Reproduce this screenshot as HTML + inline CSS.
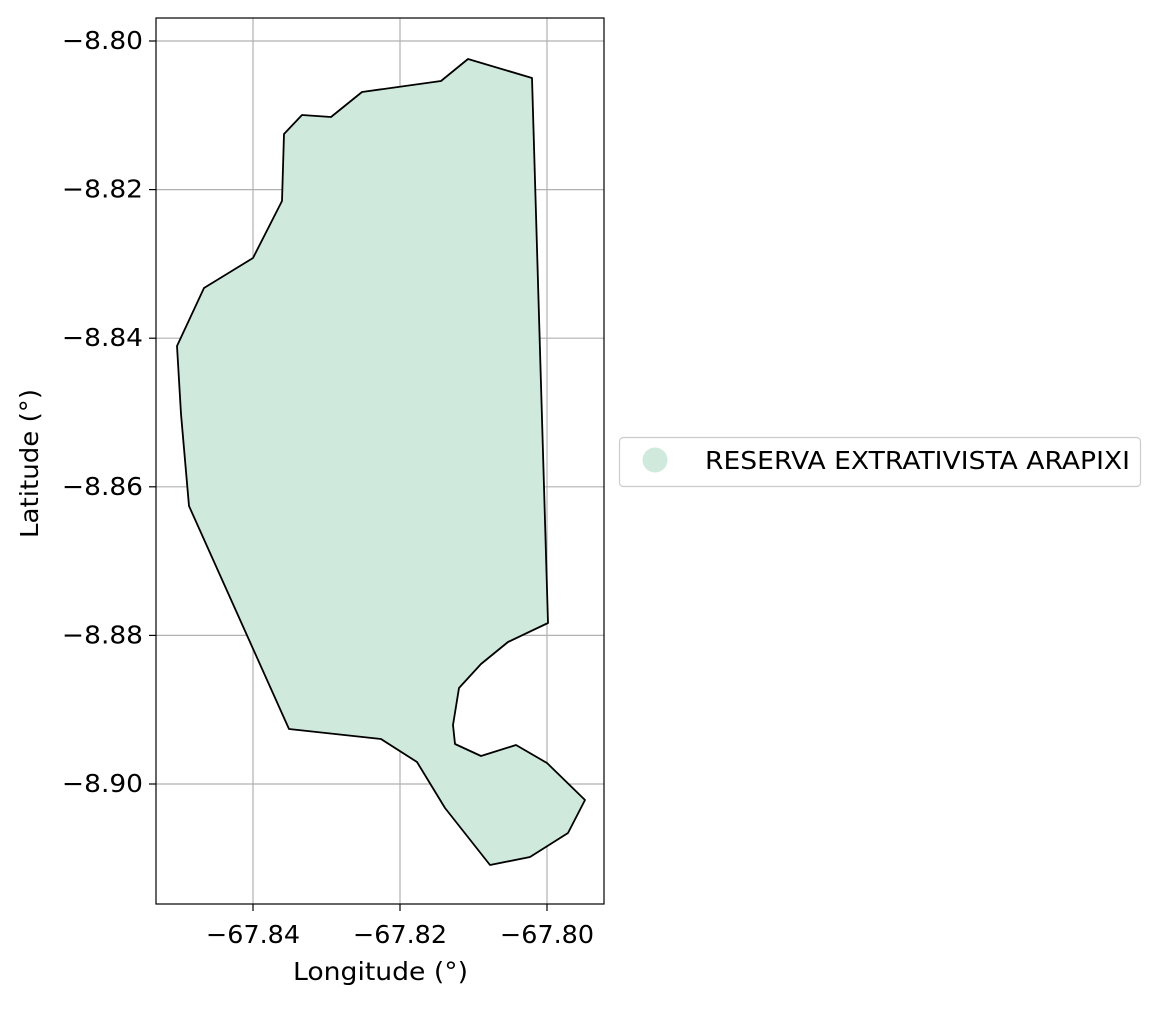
<!DOCTYPE html>
<html><head><meta charset="utf-8"><style>
body{margin:0;background:#fff;}
svg text{font-family:"DejaVu Sans","Liberation Sans",sans-serif;fill:#000;font-size:25px;}
</style></head><body>
<svg id="chart" width="1159" height="1006" viewBox="0 0 1159 1006" xmlns="http://www.w3.org/2000/svg">
<g id="grid"></g>
<g id="poly"></g>
<rect x="156" y="18" width="448" height="886" fill="none" stroke="#000" stroke-width="1.2"/>
<g id="ticks"></g>
<text x="293" y="980" style="font-size:25px" textLength="175" lengthAdjust="spacingAndGlyphs">Longitude (°)</text>
<text x="0" y="0" style="font-size:25px" textLength="149" lengthAdjust="spacingAndGlyphs" transform="translate(38 538) rotate(-90)">Latitude (°)</text>
<g>
<rect x="619.5" y="437.5" width="521" height="49" rx="4" fill="#fff" stroke="#ccc" stroke-width="1.2"/>
<circle cx="655" cy="460" r="12.5" fill="#cfeadd"/>
<text x="705" y="469" style="font-size:25px" textLength="425" lengthAdjust="spacingAndGlyphs">RESERVA EXTRATIVISTA ARAPIXI</text>
</g>
</svg>
<script>
const lonValues=[-67.81075,-67.80204,-67.79986,-67.80531,-67.80898,-67.81197,-67.81279,-67.81252,-67.80898,-67.80422,-67.80000,-67.79483,-67.79714,-67.80231,-67.80776,-67.81388,-67.81769,-67.82259,-67.83510,-67.84871,-67.84980,-67.85034,-67.84667,-67.84000,-67.83605,-67.83578,-67.83333,-67.82939,-67.82517,-67.81442];
const latValues=[-8.80242,-8.80498,-8.87833,-8.88089,-8.88385,-8.88708,-8.89206,-8.89462,-8.89623,-8.89475,-8.89717,-8.90215,-8.90659,-8.90983,-8.91090,-8.90323,-8.89704,-8.89394,-8.89260,-8.86258,-8.85020,-8.84105,-8.83324,-8.82921,-8.82153,-8.81252,-8.80996,-8.81023,-8.80686,-8.80538];
const xTicks=[-67.84,-67.82,-67.80];
const xTickLabels=["−67.84","−67.82","−67.80"];
const yTicks=[-8.80,-8.82,-8.84,-8.86,-8.88,-8.90];
const yTickLabels=["−8.80","−8.82","−8.84","−8.86","−8.88","−8.90"];
function xs(v){return 253+(v+67.84)*7350;}
function ys(v){return 41-(v+8.80)*7430;}
const NS="http://www.w3.org/2000/svg";
const grid=document.getElementById('grid'),ticks=document.getElementById('ticks'),poly=document.getElementById('poly');
function mk(t,a,p){const e=document.createElementNS(NS,t);for(const k in a)e.setAttribute(k,a[k]);p.appendChild(e);return e;}
xTicks.forEach((v,i)=>{const x=xs(v);
 const g=mk('line',{x1:x,x2:x,y1:18,y2:904,stroke:'#b0b0b0','stroke-width':1.2},grid);
 
 
 const t=mk('line',{x1:x,x2:x,y1:904,y2:911,stroke:'#000','stroke-width':1.2},ticks);
 
 
 const l=mk('text',{x:x-47,y:943,style:'font-size:25px',textLength:94,lengthAdjust:'spacingAndGlyphs'},ticks);l.textContent=xTickLabels[i];
 
 
});
yTicks.forEach((v,i)=>{const y=ys(v);
 const g=mk('line',{x1:156,x2:604,y1:y,y2:y,stroke:'#b0b0b0','stroke-width':1.2},grid);
 
 
 const t=mk('line',{x1:149,x2:156,y1:y,y2:y,stroke:'#000','stroke-width':1.2},ticks);
 
 
 const l=mk('text',{x:62,y:y+8,style:'font-size:25px',textLength:81,lengthAdjust:'spacingAndGlyphs'},ticks);l.textContent=yTickLabels[i];
 
 
});
const pts=lonValues.map((v,i)=>xs(v).toFixed(1)+','+ys(latValues[i]).toFixed(1)).join(' ');
const p=mk('polygon',{points:pts,fill:'#cfeadd',stroke:'#000','stroke-width':1.8,'stroke-linejoin':'round'},poly);


</script>
</body></html>
